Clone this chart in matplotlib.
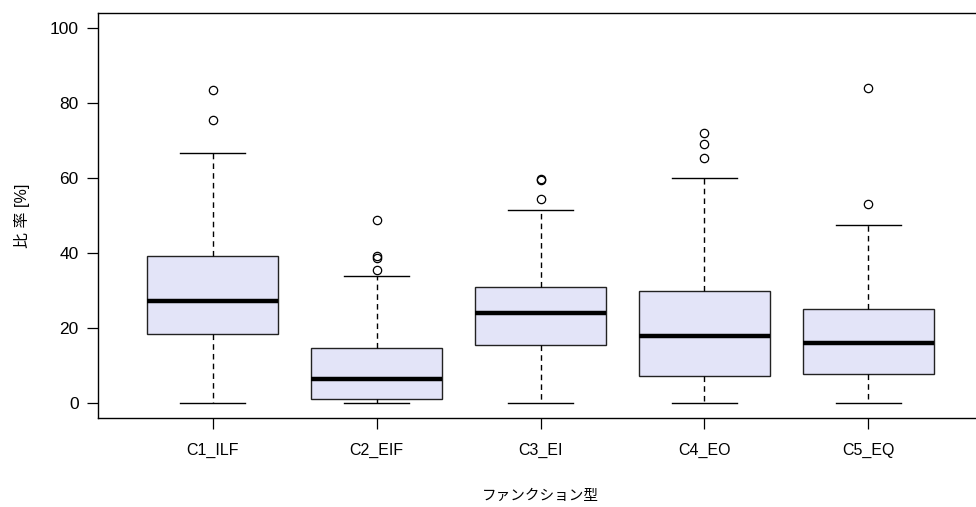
import matplotlib
matplotlib.use("Agg")
import matplotlib.pyplot as plt

plt.rcParams['font.family'] = ['Liberation Sans', 'Noto Sans CJK JP', 'DejaVu Sans']

# function types and their five-number summaries (percent)
categories = ["C1_ILF", "C2_EIF", "C3_EI", "C4_EO", "C5_EQ"]
whisker_low = [0.0, 0.0, 0.0, 0.0, 0.0]
q1 = [18.5, 1.1, 15.4, 7.1, 7.7]
medians = [27.1, 6.4, 23.9, 17.8, 16.0]
q3 = [39.3, 14.7, 31.0, 29.8, 25.1]
whisker_high = [66.7, 33.8, 51.5, 59.9, 47.6]
outliers = [
    [83.5, 75.5],
    [48.8, 39.3, 38.6, 35.5],
    [59.7, 59.4, 54.3],
    [71.9, 69.1, 65.3],
    [84.1, 53.1],
]
yticks = [0, 20, 40, 60, 80, 100]

stats = []
for i, name in enumerate(categories):
    stats.append(dict(label=name, whislo=whisker_low[i], q1=q1[i], med=medians[i],
                      q3=q3[i], whishi=whisker_high[i], fliers=outliers[i]))

fig = plt.figure(figsize=(9.76, 5.07), dpi=100)
ax = fig.add_axes([0.1004, 0.1755, 0.9068, 0.7989])

positions = list(range(1, len(categories) + 1))
ax.bxp(stats, positions=positions, widths=0.8, patch_artist=True, showfliers=True,
       boxprops=dict(facecolor="#E3E4F8", edgecolor="#222222", linewidth=1.0),
       medianprops=dict(color="black", linewidth=3.2, solid_capstyle="butt"),
       whiskerprops=dict(color="black", linewidth=1.0, linestyle=(0, (4, 3))),
       capprops=dict(color="black", linewidth=1.0),
       capwidths=0.4,
       flierprops=dict(marker="o", markersize=6, markerfacecolor="none",
                       markeredgecolor="black", markeredgewidth=0.9))

ax.set_xlim(0.3, 5.7)
ax.set_ylim(-4, 104)
ax.set_yticks(yticks)
ax.set_xticks(positions)
ax.set_xticklabels(categories)
ax.tick_params(axis="both", length=8, width=0.9, labelsize=12.5, colors="black")
ax.tick_params(axis="x", pad=10, labelsize=11.5)
ax.tick_params(axis="y", pad=6)
for sp in ax.spines.values():
    sp.set_linewidth(1.0)

ax.set_ylabel("比 率 [%]", fontsize=11.5, labelpad=14)
ax.set_xlabel("ファンクション型", fontsize=10.5, labelpad=22)

fig.savefig("out.png", dpi=100)
